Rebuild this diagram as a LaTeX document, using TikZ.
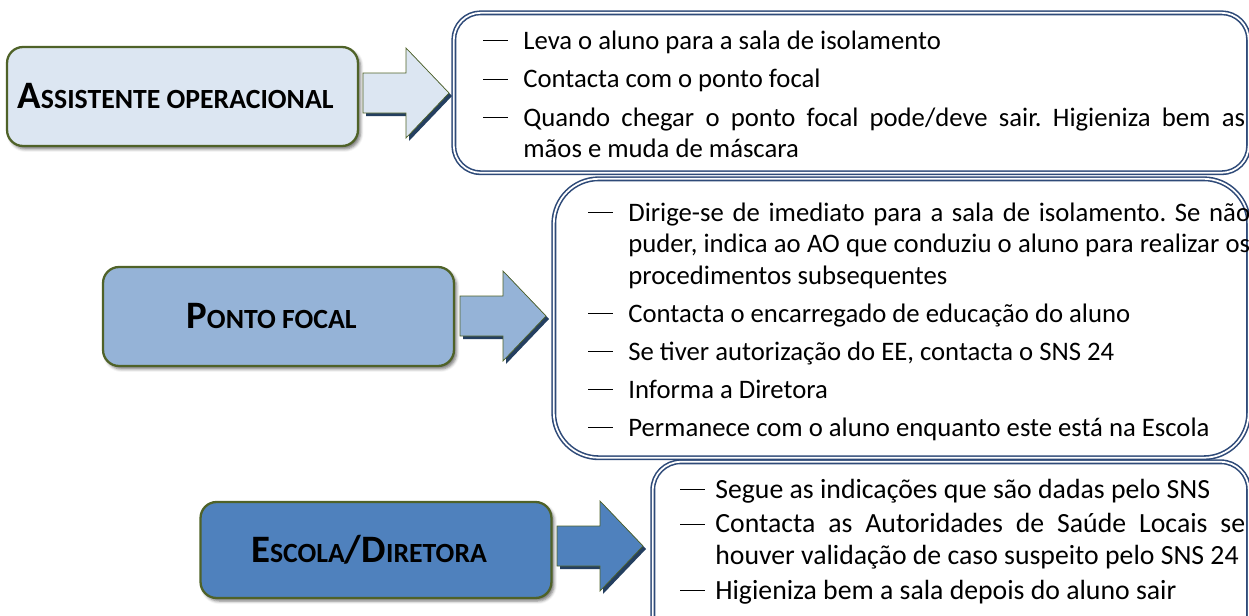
\documentclass[tikz,border=0pt]{standalone}
\usepackage{fontspec}
\setmainfont{Carlito}
\usetikzlibrary{shadows.blur}
\definecolor{olive}{HTML}{4F6228}
\definecolor{clair}{HTML}{DCE6F2}
\definecolor{moyen}{HTML}{95B3D7}
\definecolor{fonce}{HTML}{4F81BD}
\definecolor{marine}{HTML}{243F60}
\definecolor{cadre}{HTML}{2E4A78}
\tikzset{titre/.style={draw=olive, line width=1.3pt, rounded corners=0.32cm,
           minimum width=7.02cm, minimum height=1.98cm, inner sep=0pt,
           blur shadow={shadow xshift=0.05cm, shadow yshift=-0.06cm,
                        shadow blur radius=0.06cm, shadow opacity=55}},
         boite/.style={draw=cadre, line width=0.9pt, double=white,
           double distance=1pt, anchor=north west, inner sep=0pt},
         liste/.style={anchor=base west, inner sep=0pt, align=justify,
           font=\fontsize{#1}{18}\selectfont}}
\newcommand{\grand}[1]{{\fontsize{22.1}{26}\selectfont\bfseries #1}}
\newcommand{\petit}[1]{{\fontsize{15.8}{18}\selectfont\bfseries #1}}
\newcommand{\ecart}[1]{\setlength{\parskip}{#1}\hyphenpenalty=10000\exhyphenpenalty=10000
  \frenchspacing\spaceskip=\fontdimen2\font plus \fontdimen3\font\relax}
\newcommand{\tiret}[2][0.8cm]{\noindent\hangindent=#1\hangafter=1%
  \makebox[#1][l]{\rule[0.3em]{0.5cm}{0.5pt}}#2\par}
\newcommand{\fleche}[3]{
  \fill[marine, shift={(3,3)}] (#1,#2-20) -- (#1+43,#2-20) -- (#1+43,#2-45) -- (#1+86,#2)
    -- (#1+43,#2+45) -- (#1+43,#2+20) -- (#1,#2+20) -- cycle;
  \filldraw[fill=#3, draw=olive, line width=0.4pt] (#1,#2-20) -- (#1+43,#2-20) -- (#1+43,#2-45)
    -- (#1+86,#2) -- (#1+43,#2+45) -- (#1+43,#2+20) -- (#1,#2+20) -- cycle;}

\begin{document}
\begin{tikzpicture}[x=0.02cm, y=-0.02cm]
  \useasboundingbox (0,0) rectangle (1249,616);
  \clip (0,0) rectangle (1249,616);
  % blocs de gauche
  \node[titre, fill=clair] (ao) at (182.5,96.5) {\grand{A}\petit{SSISTENTE OPERACIONAL}\kern0.28cm};
  \node[titre, fill=moyen] (pf) at (278.5,316.5) {\grand{P}\petit{ONTO FOCAL}\kern0.28cm};
  \node[titre, fill=fonce, minimum height=1.92cm] (ed) at (376,550) {\grand{E}\petit{SCOLA}\grand{/D}\petit{IRETORA}\kern0.28cm};
  \fleche{363}{93}{clair}
  \fleche{460}{316}{moyen}
  \fleche{557}{546}{fonce}
  % cadres
  \node[boite, rounded corners=0.54cm, minimum width=15.9cm, minimum height=3.2cm] (c1) at (453,12) {};
  \node[boite, rounded corners=0.9cm, minimum width=13.9cm, minimum height=5.58cm] (c2) at (553,178) {};
  \node[boite, rounded corners=0.56cm, minimum width=11.92cm, minimum height=3.8cm] (c3) at (652,461) {};
  \node[liste=15.2, text width=15.24cm] (t1) at (483,49) {\ecart{4pt}%
    \tiret{Leva o aluno para a sala de isolamento}
    \tiret{Contacta com o ponto focal}
    \tiret{Quando chegar o ponto focal pode/deve sair. Higieniza bem as mãos e muda de máscara}};
  \node[liste=15.2, text width=13.24cm] (t2) at (588,221) {\ecart{3.6pt}%
    \tiret{Dirige-se de imediato para a sala de isolamento. Se não puder, indica ao AO que conduziu o aluno para realizar os procedimentos subsequentes}
    \tiret{Contacta o encarregado de educação do aluno}
    \tiret{Se tiver autorização do EE, contacta o SNS 24}
    \tiret{Informa a Diretora}
    \tiret{Permanece com o aluno enquanto este está na Escola}};
  \node[liste=15.8, text width=11.3cm] (t3) at (680,498) {\ecart{1.8pt}%
    \tiret[0.7cm]{Segue as indicações que são dadas pelo SNS}
    \tiret[0.7cm]{Contacta as Autoridades de Saúde Locais se houver validação de caso suspeito pelo SNS 24}
    \tiret[0.7cm]{Higieniza bem a sala depois do aluno sair}};
\end{tikzpicture}
\end{document}
